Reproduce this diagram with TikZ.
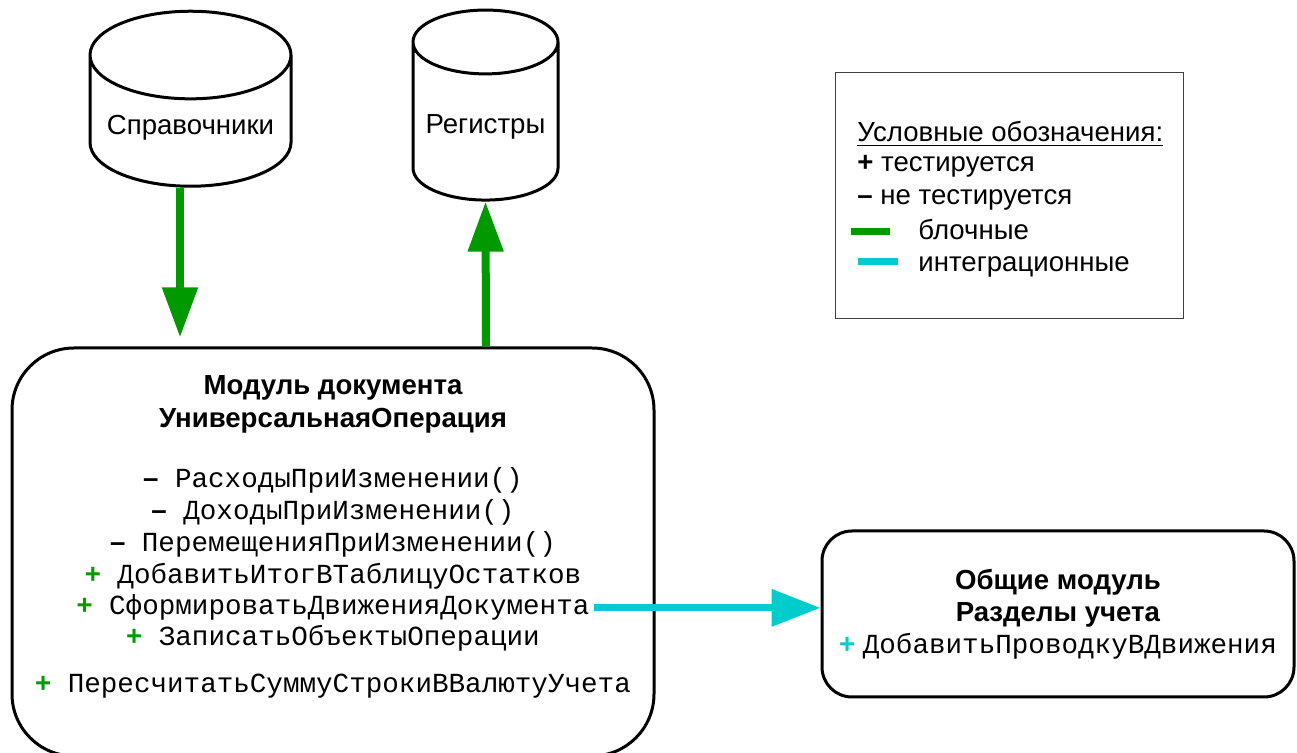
\documentclass[tikz,border=0pt]{standalone}
\usepackage{fontspec}
\setmainfont{Liberation Sans}
\newfontfamily\codefont{Liberation Mono}
\usetikzlibrary{arrows.meta,shapes.geometric}
\definecolor{blockgreen}{RGB}{0,153,0}
\definecolor{integcyan}{RGB}{0,204,204}
\newcommand{\tplus}{{\normalfont\bfseries\color{blockgreen}+}}
\newcommand{\tminus}{{\normalfont\bfseries –}}
\newcommand{\iplus}{{\normalfont\bfseries\color{integcyan}+}}
\begin{document}
\begin{tikzpicture}[x=0.5pt,y=-0.5pt,
    every node/.style={font=\fontsize{13.8}{16}\selectfont,inner sep=2pt},
    base/.style={cylinder,shape border rotate=90,draw,line width=1.5pt,aspect=0.5},
    modbox/.style={draw,line width=1.5pt},
    method/.style={font=\fontsize{13.8}{16}\selectfont\codefont,anchor=base},
    block/.style={line width=4pt,blockgreen,-{Triangle[width=17pt,length=25pt]}},
    integ/.style={line width=3.5pt,integcyan,-{Triangle[width=18pt,length=24.5pt]}}]
\useasboundingbox(0,0)rectangle(1297,753);
\node[base,minimum width=100.5pt,minimum height=87.5pt](sprav)at(190.5,127.5){Справочники};
\node[base,minimum width=72.5pt,minimum height=95pt](regist)at(485.5,127){Регистры};
\node[modbox,rounded corners=31pt,minimum width=321pt,minimum height=204pt](modul)at(333,552){};
\node[align=center,font=\fontsize{13.8}{16.5}\selectfont\bfseries](modtitle)at(333,404){Модуль документа\\УниверсальнаяОперация};
\foreach \n/\sg/\txt/\y in {1/\tminus/РасходыПриИзменении()/488,
    2/\tminus/ДоходыПриИзменении()/520,
    3/\tminus/ПеремещенияПриИзменении()/552,
    4/\tplus/ДобавитьИтогВТаблицуОстатков/584,
    5/\tplus/СформироватьДвиженияДокумента/615,
    6/\tplus/ЗаписатьОбъектыОперации/646,
    7/\tplus/ПересчитатьСуммуСтрокиВВалютуУчета/692}
{
    \node[method](m\n)at(333,\y){\sg\ \txt};
}
\node[modbox,rounded corners=15pt,minimum width=236pt,minimum height=83pt,align=center](obsh)at(1058,614)
    {\textbf{Общие модуль}\\\textbf{Разделы учета}\\\iplus\ {\codefont ДобавитьПроводкуВДвижения}};
\node[draw=black!75,line width=0.5pt,minimum width=174pt,minimum height=123pt](legend)at(1009.5,195.5){};
\node[anchor=base west](lhead)at(853,142){\underline{Условные обозначения:}};
\node[anchor=base west](lplus)at(853,172){\textbf{+} тестируется};
\node[anchor=base west](lminus)at(853,205){\textbf{–} не тестируется};
\node[anchor=base west](lblock)at(914,240){блочные};
\node[anchor=base west](linteg)at(914,272){интеграционные};
\draw[line width=3.5pt,blockgreen](851,231.5)--(890,231.5);
\draw[line width=3.5pt,integcyan](858,261.5)--(898,261.5);
\draw[block,shorten >=4.5pt]([xshift=-5.25pt]sprav.south)--([xshift=-76.5pt]modul.north);
\draw[block]([xshift=76.5pt]modul.north)--(regist.south);
\draw[integ](m5.east)--(m5.east-|obsh.west);
\end{tikzpicture}
\end{document}
